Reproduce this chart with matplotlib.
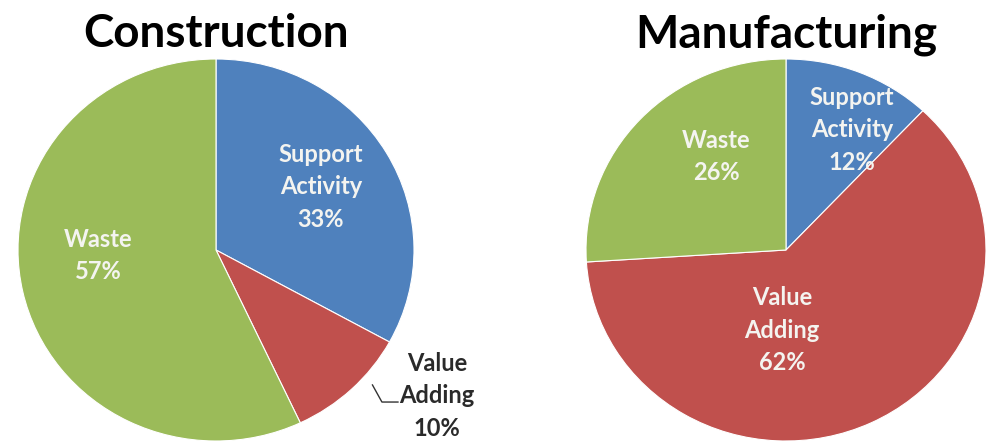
import numpy as np
import matplotlib
matplotlib.use('Agg')
import matplotlib.pyplot as plt

plt.rcParams['font.family'] = ['Lato', 'DejaVu Sans']

# Datos de cada sector
categorias = ['Support\nActivity', 'Value\nAdding', 'Waste']
construccion = [33, 10, 57]
manufactura = [12, 62, 26]
titulos = ['Construction', 'Manufacturing']
colores = ['#4F81BD', '#C0504D', '#9BBB59']

# Posición de cada etiqueta (coordenadas del eje)
pos_construccion = [(0.53, 0.33), (1.116, -0.764), (-0.595, -0.03)]
pos_manufactura = [(0.33, 0.63), (-0.02, -0.42), (-0.35, 0.49)]

W, H = 991, 443
fig = plt.figure(figsize=(W / 100, H / 100), dpi=100)


def dibujar_pie(cx, cy, rx, ry, valores, posiciones, titulo, fuera=()):
    ax = fig.add_axes([(cx - rx) / W, (H - cy - ry) / H, 2 * rx / W, 2 * ry / H])
    wedges, _ = ax.pie(valores, colors=colores, startangle=90, counterclock=False,
                       radius=1, wedgeprops=dict(edgecolor='white', linewidth=0.8))
    ax.set_aspect('auto')
    ax.set_xlim(-1, 1)
    ax.set_ylim(-1, 1)
    ax.axis('off')
    for i, (w, v) in enumerate(zip(wedges, valores)):
        texto = f'{categorias[i]}\n{v}%'
        x, y = posiciones[i]
        if i in fuera:
            # etiqueta exterior con línea guía quebrada
            ang = np.deg2rad((w.theta1 + w.theta2) / 2 + 5)
            x0, y0 = 1.06 * np.cos(ang), 1.06 * np.sin(ang)
            ax.plot([x0, x - 0.278, x - 0.197], [y0, y - 0.032, y - 0.032],
                    color='#333333', lw=1, clip_on=False)
            ax.text(x, y, texto, ha='center', va='center', fontsize=17,
                    fontweight='bold', color='#2a2a2a', linespacing=1.5)
        else:
            ax.text(x, y, texto, ha='center', va='center', fontsize=17,
                    fontweight='bold', color='#F4F4F0', linespacing=1.5)
    fig.text(cx / W, 1 - 47 / H, titulo, ha='center', va='baseline',
             fontsize=33, fontweight='bold', color='black')


dibujar_pie(216, 250, 198, 191, construccion, pos_construccion, titulos[0], fuera=(1,))
dibujar_pie(786, 250, 200, 191, manufactura, pos_manufactura, titulos[1])

fig.savefig('out.png', dpi=100)
